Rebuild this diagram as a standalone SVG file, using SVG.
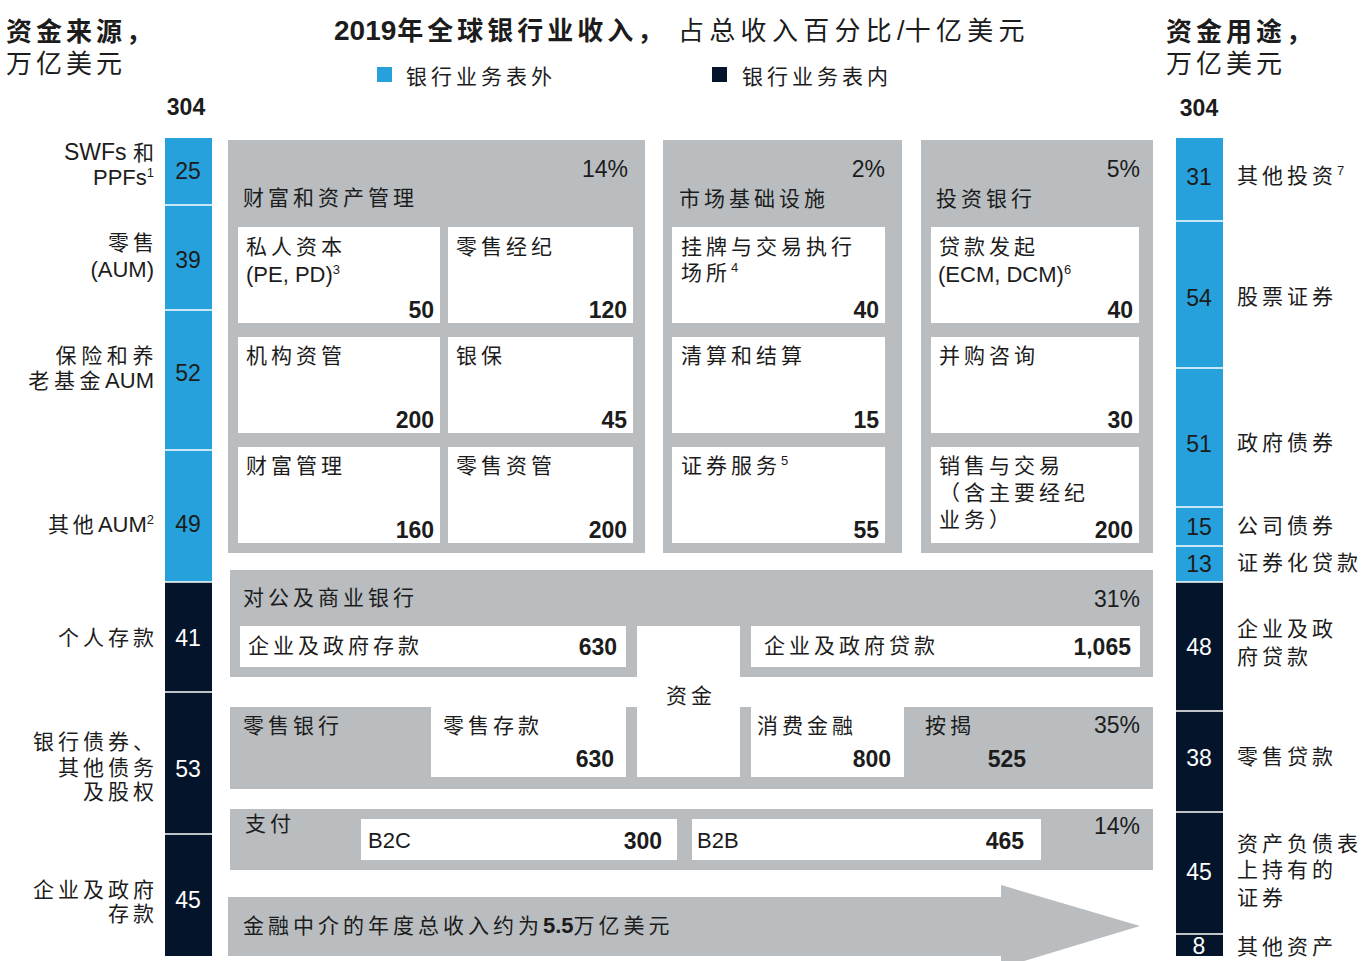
<svg xmlns="http://www.w3.org/2000/svg" width="1364" height="961" viewBox="0 0 1364 961">
<style>
text{fill:#1c1c1c}
.cn{font-family:"Liberation Sans","Noto Sans CJK SC",sans-serif;font-size:21px;letter-spacing:4px}
.h{font-family:"Liberation Sans","Noto Sans CJK SC",sans-serif;font-size:26px;letter-spacing:4px}
.b{font-weight:700}
.la{font-family:"Liberation Sans",Arial,sans-serif;letter-spacing:0;font-size:22px}
.lat{font-family:"Liberation Sans",Arial,sans-serif;font-size:22px}
.num{font-family:"Liberation Sans",Arial,sans-serif;font-size:23px;font-weight:700;text-anchor:end}
.pct{font-family:"Liberation Sans",Arial,sans-serif;font-size:23px;text-anchor:end}
.bar{font-family:"Liberation Sans",Arial,sans-serif;font-size:23px;text-anchor:middle}
.w{fill:#ffffff}
.sup{font-size:13px}
.end{text-anchor:end}
.panel{fill:#b9bdc0}
.box{fill:#ffffff}
.blue{fill:#26a1db}
.navy{fill:#04152b}
.sep{stroke:#ffffff;stroke-width:1.5}
</style>

<g id="header">
<text class="h"><tspan x="6" y="41" class="b">资金来源，</tspan><tspan x="6" y="73">万亿美元</tspan></text>
<text x="334" y="40"><tspan class="la b" style="font-size:28px">2019</tspan><tspan class="h b" dx="1">年全球银行业收入，</tspan></text>
<text x="678" y="40" class="h" style="letter-spacing:5.3px">占总收入百分比<tspan class="la" style="font-size:27px">/</tspan>十亿美元</text>
<text class="h"><tspan x="1166" y="41" class="b">资金用途，</tspan><tspan x="1166" y="73">万亿美元</tspan></text>
<text x="186" y="115" class="la b" style="font-size:23px" text-anchor="middle">304</text>
<text x="1199" y="116" class="la b" style="font-size:23px" text-anchor="middle">304</text>
</g>

<g id="legend">
<rect x="377" y="67" width="15" height="15" class="blue"/>
<text x="406" y="84" class="cn">银行业务表外</text>
<rect x="712" y="67" width="15" height="15" class="navy"/>
<text x="742" y="84" class="cn">银行业务表内</text>
</g>

<g id="sources">
<rect x="165" y="138" width="47" height="444" class="blue"/>
<rect x="165" y="582" width="47" height="374" class="navy"/>
<line x1="165" y1="205" x2="212" y2="205" class="sep"/>
<line x1="165" y1="310" x2="212" y2="310" class="sep"/>
<line x1="165" y1="450" x2="212" y2="450" class="sep"/>
<line x1="165" y1="582" x2="212" y2="582" class="sep"/>
<line x1="165" y1="692" x2="212" y2="692" class="sep"/>
<line x1="165" y1="834" x2="212" y2="834" class="sep"/>
<text x="188" y="179" class="bar">25</text>
<text x="188" y="268" class="bar">39</text>
<text x="188" y="381" class="bar">52</text>
<text x="188" y="532" class="bar">49</text>
<text x="188" y="646" class="bar w">41</text>
<text x="188" y="777" class="bar w">53</text>
<text x="188" y="908" class="bar w">45</text>
<text class="cn end"><tspan x="158" y="160"><tspan class="la" style="font-size:23px">SWFs </tspan>和</tspan><tspan x="154" y="185" class="la">PPFs<tspan class="sup" dy="-8">1</tspan></tspan></text>
<text class="cn end"><tspan x="158" y="250">零售</tspan><tspan x="154" y="277" class="la">(AUM)</tspan></text>
<text class="cn end" style="letter-spacing:4.6px"><tspan x="158" y="363">保险和养</tspan><tspan x="154" y="388">老基金<tspan class="la">AUM</tspan></tspan></text>
<text x="154" y="532" class="cn end">其他<tspan class="la">AUM</tspan><tspan class="la sup" dy="-8">2</tspan></text>
<text x="158" y="645" class="cn end">个人存款</text>
<text class="cn end"><tspan x="158" y="749">银行债券、</tspan><tspan x="158" y="775">其他债务</tspan><tspan x="158" y="799">及股权</tspan></text>
<text class="cn end"><tspan x="158" y="897">企业及政府</tspan><tspan x="158" y="921">存款</tspan></text>
</g>

<g id="uses">
<rect x="1176" y="138" width="47" height="444" class="blue"/>
<rect x="1176" y="582" width="47" height="374" class="navy"/>
<line x1="1176" y1="221" x2="1223" y2="221" class="sep"/>
<line x1="1176" y1="368" x2="1223" y2="368" class="sep"/>
<line x1="1176" y1="507" x2="1223" y2="507" class="sep"/>
<line x1="1176" y1="546" x2="1223" y2="546" class="sep"/>
<line x1="1176" y1="582" x2="1223" y2="582" class="sep"/>
<line x1="1176" y1="711" x2="1223" y2="711" class="sep"/>
<line x1="1176" y1="812" x2="1223" y2="812" class="sep"/>
<line x1="1176" y1="934" x2="1223" y2="934" class="sep"/>
<text x="1199" y="185" class="bar">31</text>
<text x="1199" y="306" class="bar">54</text>
<text x="1199" y="452" class="bar">51</text>
<text x="1199" y="535" class="bar">15</text>
<text x="1199" y="572" class="bar">13</text>
<text x="1199" y="655" class="bar w">48</text>
<text x="1199" y="766" class="bar w">38</text>
<text x="1199" y="880" class="bar w">45</text>
<text x="1199" y="954" class="bar w">8</text>
<text x="1237" y="183" class="cn">其他投资<tspan class="la sup" dy="-8">7</tspan></text>
<text x="1237" y="304" class="cn">股票证券</text>
<text x="1237" y="450" class="cn">政府债券</text>
<text x="1237" y="533" class="cn">公司债券</text>
<text x="1237" y="570" class="cn">证券化贷款</text>
<text class="cn"><tspan x="1237" y="636">企业及政</tspan><tspan x="1237" y="664">府贷款</tspan></text>
<text x="1237" y="764" class="cn">零售贷款</text>
<text class="cn"><tspan x="1237" y="851">资产负债表</tspan><tspan x="1237" y="877">上持有的</tspan><tspan x="1237" y="905">证券</tspan></text>
<text x="1237" y="954" class="cn">其他资产</text>
</g>

<g id="wealth">
<rect x="228" y="140" width="417" height="413" class="panel"/>
<text x="628" y="177" class="pct">14%</text>
<text x="243" y="205" class="cn">财富和资产管理</text>
<rect x="238" y="227" width="202" height="96" class="box"/>
<rect x="448" y="227" width="185" height="96" class="box"/>
<rect x="238" y="337" width="202" height="96" class="box"/>
<rect x="448" y="337" width="185" height="96" class="box"/>
<rect x="238" y="447" width="202" height="96" class="box"/>
<rect x="448" y="447" width="185" height="96" class="box"/>
<text class="cn"><tspan x="246" y="254">私人资本</tspan><tspan x="246" y="282" class="la">(PE, PD)<tspan class="sup" dy="-8">3</tspan></tspan></text>
<text x="434" y="318" class="num">50</text>
<text x="456" y="254" class="cn">零售经纪</text>
<text x="627" y="318" class="num">120</text>
<text x="246" y="363" class="cn">机构资管</text>
<text x="434" y="428" class="num">200</text>
<text x="456" y="363" class="cn">银保</text>
<text x="627" y="428" class="num">45</text>
<text x="246" y="473" class="cn">财富管理</text>
<text x="434" y="538" class="num">160</text>
<text x="456" y="473" class="cn">零售资管</text>
<text x="627" y="538" class="num">200</text>
</g>

<g id="market">
<rect x="663" y="140" width="239" height="413" class="panel"/>
<text x="885" y="177" class="pct">2%</text>
<text x="679" y="206" class="cn">市场基础设施</text>
<rect x="672" y="227" width="213" height="96" class="box"/>
<rect x="672" y="337" width="213" height="96" class="box"/>
<rect x="672" y="447" width="213" height="96" class="box"/>
<text class="cn"><tspan x="681" y="254">挂牌与交易执行</tspan><tspan x="681" y="280">场所<tspan class="la sup" dy="-8">4</tspan></tspan></text>
<text x="879" y="318" class="num">40</text>
<text x="681" y="363" class="cn">清算和结算</text>
<text x="879" y="428" class="num">15</text>
<text x="681" y="473" class="cn">证券服务<tspan class="la sup" dy="-8">5</tspan></text>
<text x="879" y="538" class="num">55</text>
</g>

<g id="ib">
<rect x="921" y="140" width="232" height="413" class="panel"/>
<text x="1140" y="177" class="pct">5%</text>
<text x="936" y="206" class="cn">投资银行</text>
<rect x="931" y="227" width="208" height="96" class="box"/>
<rect x="931" y="337" width="208" height="96" class="box"/>
<rect x="931" y="447" width="208" height="96" class="box"/>
<text class="cn"><tspan x="939" y="254">贷款发起</tspan><tspan x="938" y="282" class="la">(ECM, DCM)<tspan class="sup" dy="-8">6</tspan></tspan></text>
<text x="1133" y="318" class="num">40</text>
<text x="939" y="363" class="cn">并购咨询</text>
<text x="1133" y="428" class="num">30</text>
<text class="cn"><tspan x="939" y="473">销售与交易</tspan><tspan x="939" y="500">（含主要经纪</tspan><tspan x="939" y="527">业务）</tspan></text>
<text x="1133" y="538" class="num">200</text>
</g>

<g id="corporate">
<rect x="230" y="570" width="923" height="107" class="panel"/>
<text x="243" y="605" class="cn">对公及商业银行</text>
<text x="1140" y="607" class="pct">31%</text>
<rect x="240" y="626" width="386" height="41" class="box"/>
<rect x="751" y="626" width="389" height="41" class="box"/>
<text x="248" y="653" class="cn">企业及政府存款</text>
<text x="617" y="655" class="num">630</text>
<text x="764" y="653" class="cn">企业及政府贷款</text>
<text x="1131" y="655" class="num">1,065</text>
</g>

<g id="retail">
<rect x="230" y="707" width="923" height="82" class="panel"/>
<text x="243" y="733" class="cn">零售银行</text>
<text x="1140" y="733" class="pct">35%</text>
<rect x="431" y="707" width="195" height="70" class="box"/>
<rect x="751" y="707" width="153" height="70" class="box"/>
<text x="443" y="733" class="cn">零售存款</text>
<text x="614" y="767" class="num">630</text>
<text x="757" y="733" class="cn">消费金融</text>
<text x="891" y="767" class="num">800</text>
<text x="925" y="733" class="cn">按揭</text>
<text x="1026" y="767" class="num">525</text>
</g>

<g id="funding">
<rect x="637" y="626" width="103" height="151" class="box"/>
<text x="691" y="703" class="cn" text-anchor="middle">资金</text>
</g>

<g id="payments">
<rect x="230" y="809" width="923" height="61" class="panel"/>
<text x="245" y="831" class="cn">支付</text>
<text x="1140" y="834" class="pct">14%</text>
<rect x="361" y="819" width="316" height="41" class="box"/>
<rect x="692" y="819" width="349" height="41" class="box"/>
<text x="368" y="848" class="lat">B2C</text>
<text x="662" y="849" class="num">300</text>
<text x="697" y="848" class="lat">B2B</text>
<text x="1024" y="849" class="num">465</text>
</g>

<g id="connectors">
<polygon points="228,897 1001,897 1001,885 1140,926 1001,968 1001,956 228,956" class="panel"/>
</g>

<g id="total">
<text x="243" y="933" class="cn">金融中介的年度总收入约为<tspan class="la b">5.5</tspan>万亿美元</text>
</g>
</svg>
